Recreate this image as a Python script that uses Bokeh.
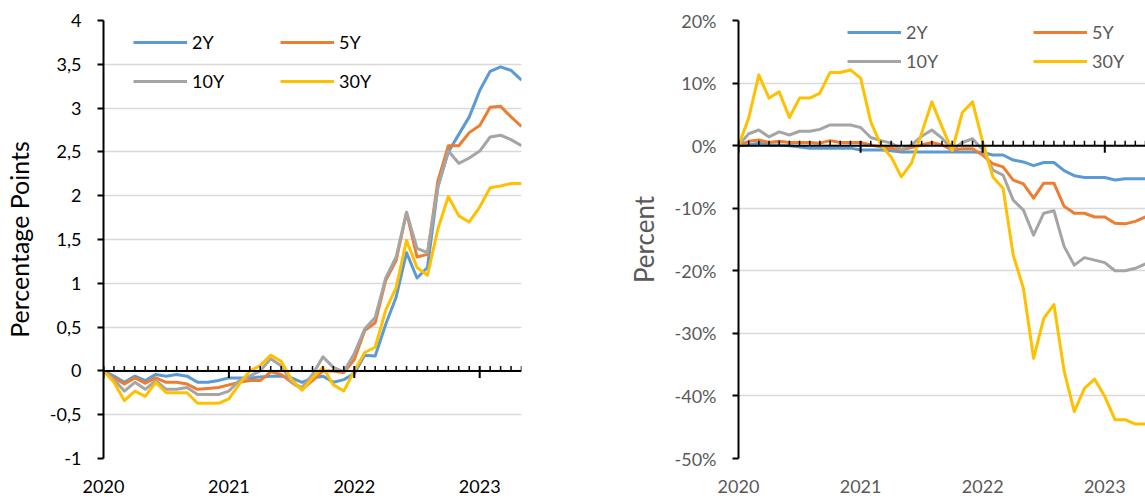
import math
from bokeh.plotting import figure
from bokeh.models import FixedTicker, Legend, LegendItem, Range1d, Span
from bokeh.layouts import row
from bokeh.embed import file_html
from bokeh.resources import INLINE

# ---------------- data ----------------
months = [f"{y}-{m:02d}" for y in range(2020, 2024) for m in range(1, 13)][:41]
year_labels = ["2020", "2021", "2022", "2023"]
series = ["2Y", "5Y", "10Y", "30Y"]
colors = ["#5B9BD5", "#ED7D31", "#A5A5A5", "#FFC000"]

# Left panel: change in yield, percentage points
pp_2y = [0, -0.06, -0.13, -0.06, -0.11, -0.04, -0.06, -0.04, -0.06, -0.13, -0.13, -0.11,
         -0.08, -0.08, -0.08, -0.07, -0.06, -0.06, -0.08, -0.13, -0.08, -0.06, -0.13, -0.10,
         -0.03, 0.18, 0.17, 0.53, 0.84, 1.35, 1.06, 1.18, 2.10, 2.50, 2.70, 2.90,
         3.20, 3.42, 3.47, 3.43, 3.32]
pp_5y = [0, -0.08, -0.15, -0.08, -0.14, -0.08, -0.13, -0.13, -0.15, -0.21, -0.20, -0.19,
         -0.16, -0.13, -0.11, -0.11, -0.01, -0.04, -0.13, -0.21, -0.11, 0.00, 0.00, -0.02,
         0.13, 0.46, 0.55, 1.03, 1.26, 1.81, 1.30, 1.33, 2.17, 2.57, 2.57, 2.72,
         2.80, 3.01, 3.02, 2.90, 2.79]
pp_10y = [0, -0.10, -0.23, -0.13, -0.21, -0.11, -0.21, -0.21, -0.19, -0.27, -0.27, -0.27,
          -0.23, -0.11, -0.06, 0.00, 0.14, 0.06, -0.13, -0.19, -0.04, 0.16, 0.04, -0.01,
          0.20, 0.48, 0.61, 1.06, 1.30, 1.81, 1.40, 1.35, 2.10, 2.51, 2.37, 2.43,
          2.51, 2.67, 2.69, 2.64, 2.57]
pp_30y = [0, -0.13, -0.34, -0.23, -0.29, -0.13, -0.25, -0.25, -0.25, -0.37, -0.37, -0.37,
          -0.32, -0.15, 0.00, 0.06, 0.18, 0.11, -0.10, -0.22, -0.08, 0.04, -0.16, -0.23,
          0.00, 0.21, 0.27, 0.69, 0.95, 1.49, 1.18, 1.09, 1.62, 1.99, 1.77, 1.70,
          1.87, 2.09, 2.11, 2.14, 2.14]

# Right panel: percent change
pc_2y = [0, 0.1, 0.4, 0.1, 0.1, 0.0, -0.2, -0.4, -0.4, -0.4, -0.4, -0.4,
         -0.7, -0.7, -0.7, -0.8, -1.0, -1.0, -1.0, -1.0, -1.0, -1.0, -1.0, -1.0,
         -1.1, -1.5, -1.5, -2.3, -2.6, -3.2, -2.7, -2.7, -4.0, -4.8, -5.1, -5.1,
         -5.1, -5.5, -5.3, -5.3, -5.3]
pc_5y = [0, 0.7, 0.9, 0.5, 0.7, 0.5, 0.5, 0.5, 0.4, 0.8, 0.5, 0.5,
         0.5, 0.1, -0.2, -0.4, -0.7, -0.3, 0.1, 0.5, 0.1, -0.7, -0.5, -0.5,
         -1.5, -2.9, -3.4, -5.5, -6.1, -8.4, -6.0, -6.0, -9.7, -10.8, -10.8, -11.4,
         -11.4, -12.4, -12.5, -12.1, -11.4]
pc_10y = [0, 1.9, 2.5, 1.4, 2.2, 1.7, 2.3, 2.3, 2.6, 3.3, 3.3, 3.3,
          2.9, 1.3, 0.8, 0.4, -0.6, 0.1, 1.5, 2.5, 1.2, -0.7, 0.5, 1.1,
          -0.7, -3.9, -4.7, -8.7, -10.3, -14.3, -10.8, -10.4, -16.1, -19.1, -17.9, -18.3,
          -18.7, -20.0, -20.0, -19.6, -18.9]
pc_30y = [0, 4.4, 11.3, 7.6, 8.6, 4.5, 7.6, 7.6, 8.4, 11.7, 11.7, 12.1,
          10.8, 3.8, 0.1, -1.8, -5.0, -2.8, 2.0, 7.0, 3.0, -0.8, 5.3, 7.0,
          0.6, -5.0, -6.8, -17.5, -22.8, -34.0, -27.6, -25.4, -36.0, -42.5, -38.8, -37.3,
          -40.1, -43.8, -43.8, -44.5, -44.5]

left_ticks = [-1, -0.5, 0, 0.5, 1, 1.5, 2, 2.5, 3, 3.5, 4]
left_tick_labels = ["-1", "-0,5", "0", "0,5", "1", "1,5", "2", "2,5", "3", "3,5", "4"]
right_ticks = [-50, -40, -30, -20, -10, 0, 10, 20]
right_tick_labels = ["-50%", "-40%", "-30%", "-20%", "-10%", "0%", "10%", "20%"]

FONT = "Lato"
x = list(range(len(months)))
year_pos = [months.index(f"{y}-01") for y in year_labels]
minor_pos = [i for i in x if i not in year_pos]


def build(width, border_left, border_right, y_lo, y_hi, yticks, ylabels,
          ytitle, text_color, title_size, title_standoff, data, legend_specs, label_width):
    p = figure(width=width, height=502, x_range=Range1d(0, len(x) - 1), y_range=Range1d(y_lo, y_hi),
               output_backend="svg", toolbar_location=None,
               min_border_left=border_left, min_border_right=border_right,
               min_border_top=20, min_border_bottom=44)
    p.outline_line_color = None
    p.background_fill_color = "white"
    p.border_fill_color = "white"

    # bottom axis: only year labels
    xa = p.xaxis[0]
    xa.ticker = FixedTicker(ticks=year_pos, minor_ticks=[])
    xa.major_label_overrides = {pos: lab for pos, lab in zip(year_pos, year_labels)}
    xa.axis_line_color = None
    xa.major_tick_line_color = None
    xa.minor_tick_line_color = None
    xa.major_tick_out = 0
    xa.major_tick_in = 0
    xa.major_label_standoff = 21
    xa.major_label_text_font = FONT
    xa.major_label_text_font_size = "18px"
    xa.major_label_text_color = text_color

    # y axis
    ya = p.yaxis[0]
    ya.ticker = FixedTicker(ticks=yticks, minor_ticks=[])
    ya.major_label_overrides = {t: l for t, l in zip(yticks, ylabels)}
    ya.axis_line_color = "black"
    ya.axis_line_width = 2
    ya.major_tick_line_color = "black"
    ya.major_tick_line_width = 2
    ya.major_tick_out = 6
    ya.major_tick_in = 0
    ya.minor_tick_line_color = None
    ya.major_label_standoff = 16
    ya.major_label_text_font = FONT
    ya.major_label_text_font_size = "18px"
    ya.major_label_text_color = text_color
    ya.axis_label = ytitle
    ya.axis_label_text_font = FONT
    ya.axis_label_text_font_size = title_size
    ya.axis_label_text_font_style = "normal"
    ya.axis_label_text_color = text_color
    ya.axis_label_standoff = title_standoff

    p.xgrid.visible = False
    p.ygrid.ticker = FixedTicker(ticks=yticks)
    p.ygrid.grid_line_color = "#D9D9D9"
    p.ygrid.grid_line_width = 1.5

    rends = []
    for vals, col in zip(data, colors):
        rends.append(p.line(x, vals, line_color=col, line_width=3, line_join="round"))

    # horizontal axis crossing at zero, with monthly tick marks
    p.add_layout(Span(location=0, dimension="width", line_color="black", line_width=2))
    p.ray(x=minor_pos, y=[0] * len(minor_pos), length=5, length_units="screen",
          angle=math.pi / 2, line_color="black", line_width=1.5)
    p.ray(x=year_pos, y=[0] * len(year_pos), length=5, length_units="screen",
          angle=math.pi / 2, line_color="black", line_width=2)
    p.ray(x=year_pos, y=[0] * len(year_pos), length=7, length_units="screen",
          angle=-math.pi / 2, line_color="black", line_width=2)

    for (i0, i1), loc in legend_specs:
        leg = Legend(items=[LegendItem(label=series[i0], renderers=[rends[i0]]),
                            LegendItem(label=series[i1], renderers=[rends[i1]])],
                     orientation="horizontal", location=loc,
                     glyph_width=54, glyph_height=20, label_height=20,
                     label_standoff=5, label_width=label_width, spacing=0,
                     padding=0, margin=0, border_line_color=None,
                     background_fill_alpha=0,
                     label_text_font=FONT, label_text_font_size="18px",
                     label_text_color=text_color)
        p.add_layout(leg)
    return p


p1 = build(568, 103, 47, -1, 4, left_ticks, left_tick_labels,
           "Percentage Points", "#000000", "25px", 13,
           [pp_2y, pp_5y, pp_10y, pp_30y],
           [((0, 1), (30, 405)), ((2, 3), (30, 366))], 88)

p2 = build(577, 170, 0, -50, 20, right_ticks, right_tick_labels,
           "Percent", "#595959", "26px", 12,
           [pc_2y, pc_5y, pc_10y, pc_30y],
           [((0, 1), (109, 415)), ((2, 3), (109, 386))], 127)

layout = row(p1, p2)
open("out.html", "w").write(file_html(layout, INLINE))
